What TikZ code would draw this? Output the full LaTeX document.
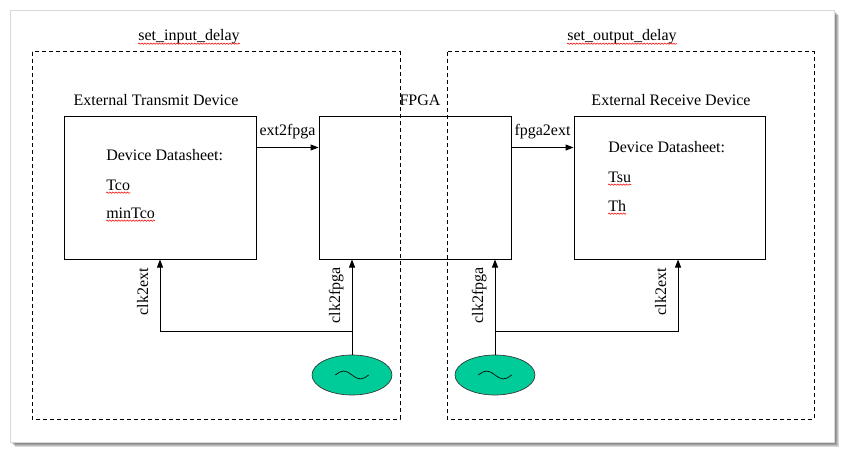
\documentclass[tikz,border=0pt]{standalone}
\usepackage{fontspec}
\setmainfont{Liberation Serif}
\usetikzlibrary{shapes.geometric,arrows.meta,fit,decorations.pathmorphing}
\begin{document}
\begin{tikzpicture}[x=0.75pt,y=-0.75pt,
    every node/.style={font=\fontsize{12pt}{14pt}\selectfont, inner sep=0pt},
    devbox/.style={draw, line width=0.75pt},
    zone/.style={draw, line width=0.75pt, dash pattern=on 3pt off 2.25pt},
    sig/.style={line width=0.75pt, -{Triangle[length=6pt,width=4.5pt]}},
    osc/.style={ellipse, draw=black!80, line width=0.5pt, fill=oscgreen,
        minimum width=60pt, minimum height=30pt},
    squig/.style={draw=red, line width=0.4pt, decorate,
        decoration={snake, amplitude=0.5pt, segment length=2.2pt}}]
    % Define colors
    \definecolor{oscgreen}{RGB}{0,204,153} % oscillator green

    \useasboundingbox (0,0) rectangle (845,453);

    % Draw page and its shadow
    \foreach \s in {1,...,5}
        \fill[black, opacity=0.14] (10+\s,10+\s) rectangle (834+\s,442+\s);
    \fill[white] (10,10) rectangle (834,442);
    \draw[black!15, line width=0.5pt] (10,10) rectangle (834,442);

    % Draw constraint zones
    \draw[zone] (32,52) rectangle (400,419);
    \draw[zone] (447,52) rectangle (814,419);
    \node[anchor=base] (inlbl) at (189,41) {set\_input\_delay};
    \node[anchor=base] (outlbl) at (622,41) {set\_output\_delay};

    % Draw devices
    \node[devbox, fit={(64,116) (256,259)}] (tx) {};
    \node[devbox, fit={(319,116) (511,259)}] (fpga) {};
    \node[devbox, fit={(574,116) (765,259)}] (rx) {};
    \node[anchor=base] (txtitle) at (156,105) {External Transmit Device};
    \node[anchor=base] (fpgatitle) at (420,105) {FPGA};
    \node[anchor=base] (rxtitle) at (671,105) {External Receive Device};

    % Datasheet values
    \node[anchor=base west] (txsheet) at (106,160) {Device Datasheet:};
    \node[anchor=base west] (tco) at (106,190) {Tco};
    \node[anchor=base west] (mintco) at (106,218) {minTco};
    \node[anchor=base west] (rxsheet) at (608,152) {Device Datasheet:};
    \node[anchor=base west] (tsu) at (608,182) {Tsu};
    \node[anchor=base west] (th) at (608,211) {Th};

    % Data paths
    \draw[sig] ([yshift=-24pt]tx.north east) -- ([yshift=-24pt]fpga.north west)
        node[midway, anchor=base, yshift=9pt] (ext2fpga) {ext2fpga};
    \draw[sig] ([yshift=-24pt]fpga.north east) -- ([yshift=-24pt]rx.north west)
        node[midway, anchor=base, yshift=9pt] (fpga2ext) {fpga2ext};

    % Draw oscillators
    \node[osc] (oscL) at (352,375) {};
    \node[osc] (oscR) at (495,375) {};
    \foreach \o in {oscL,oscR}
        \draw[line width=0.5pt] ([xshift=-12.5pt]\o.center) sin ++(6.25pt,3pt)
            cos ++(6.25pt,-3pt) sin ++(6.25pt,-3pt) cos ++(6.25pt,3pt);

    % Clock paths
    \coordinate (splitL) at (352,331);
    \coordinate (splitR) at (495,331);
    \draw[sig] (oscL.north) -- (oscL.north |- fpga.south);
    \draw[sig] (splitL) -| (tx.south);
    \draw[sig] (oscR.north) -- (oscR.north |- fpga.south);
    \draw[sig] (splitR) -| ([xshift=6.4pt]rx.south);
    \node[rotate=90, anchor=base east] (clkextL) at (148,268) {clk2ext};
    \node[rotate=90, anchor=base east] (clkfpgaL) at (340,267) {clk2fpga};
    \node[rotate=90, anchor=base east] (clkfpgaR) at (483,267) {clk2fpga};
    \node[rotate=90, anchor=base east] (clkextR) at (666,268) {clk2ext};

    % Spelling marks
    \foreach \w in {inlbl,outlbl,tco,mintco,tsu,th}
        \draw[squig] ([yshift=-2pt]\w.base west) -- ([yshift=-2pt]\w.base east);
\end{tikzpicture}
\end{document}
